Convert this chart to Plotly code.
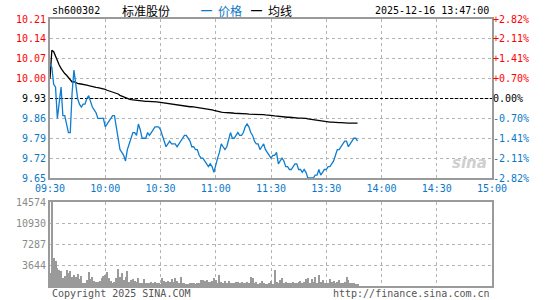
import plotly.graph_objects as go

W, H = 545, 300

# ---------------- data ----------------
symbol = "sh600302"
stock_name = "标准股份"
timestamp = "2025-12-16 13:47:00"
legend_price = "价格"
legend_avg = "均线"
copyright_text = "Copyright 2025 SINA.COM"
url_text = "http://finance.sina.com.cn"

prev_close = 9.93
time_ticks = [0, 30, 60, 90, 120, 150, 180, 210, 240]
time_labels = ["09:30", "10:00", "10:30", "11:00", "11:30", "13:30", "14:00", "14:30", "15:00"]
price_levels = [9.65, 9.72, 9.79, 9.86, 9.93, 10.00, 10.07, 10.14, 10.21]
price_labels = ["9.65", "9.72", "9.79", "9.86", "9.93", "10.00", "10.07", "10.14", "10.21"]
pct_labels = ["-2.82%", "-2.11%", "-1.41%", "-0.70%", "0.00%", "+0.70%", "+1.41%", "+2.11%", "+2.82%"]
vol_max = 14574
vol_ticks = [3644, 7287, 10930, 14574]
vol_tick_labels = ["3644", "7287", "10930", "14574"]

price = [
    10.05, 10.04, 9.98, 9.97, 9.86, 9.91, 9.97, 9.87, 9.87, 9.84,
    9.81, 9.81, 9.95, 10.03, 9.98, 9.93, 9.91, 9.90, 9.91, 9.91,
    9.93, 9.94, 9.92, 9.90, 9.89, 9.88, 9.86, 9.86, 9.86, 9.86,
    9.83, 9.84, 9.85, 9.86, 9.87, 9.87, 9.83, 9.78, 9.75, 9.74,
    9.73, 9.71, 9.75, 9.77, 9.79, 9.81, 9.81, 9.80, 9.84, 9.82,
    9.79, 9.79, 9.79, 9.81, 9.80, 9.81, 9.82, 9.83, 9.83, 9.83,
    9.82, 9.80, 9.78, 9.76, 9.77, 9.78, 9.77, 9.77, 9.77, 9.76,
    9.77, 9.78, 9.79, 9.80, 9.80, 9.79, 9.78, 9.76, 9.76, 9.75,
    9.75, 9.73, 9.72, 9.72, 9.71, 9.70, 9.69, 9.70, 9.69, 9.67,
    9.70, 9.72, 9.74, 9.77, 9.76, 9.75, 9.76, 9.79, 9.81, 9.79,
    9.79, 9.80, 9.81, 9.80, 9.80, 9.81, 9.83, 9.84, 9.83, 9.81,
    9.80, 9.78, 9.77, 9.77, 9.75, 9.76, 9.77, 9.75, 9.74, 9.73,
    9.72, 9.73, 9.73, 9.74, 9.70, 9.71, 9.72, 9.71, 9.69, 9.69,
    9.68, 9.68, 9.69, 9.70, 9.70, 9.68, 9.68, 9.67, 9.68, 9.67,
    9.65, 9.65, 9.65, 9.65, 9.66, 9.66, 9.68, 9.66, 9.67, 9.68,
    9.68, 9.69, 9.69, 9.70, 9.71, 9.73, 9.75, 9.75, 9.76, 9.77,
    9.78, 9.78, 9.76, 9.77, 9.78, 9.79, 9.79, 9.78,
]

avg_price = [
    10.000, 10.100, 10.095, 10.078, 10.062, 10.048, 10.036, 10.026, 10.018, 10.012,
    10.003, 9.994, 9.988, 9.989, 9.985, 9.983, 9.982, 9.981, 9.981, 9.979,
    9.977, 9.975, 9.973, 9.972, 9.970, 9.969, 9.968, 9.967, 9.966, 9.965,
    9.962, 9.959, 9.957, 9.955, 9.953, 9.951, 9.949, 9.946, 9.941, 9.938,
    9.935, 9.932, 9.930, 9.928, 9.926, 9.925, 9.924, 9.923, 9.922, 9.922,
    9.921, 9.921, 9.920, 9.920, 9.920, 9.919, 9.919, 9.918, 9.918, 9.917,
    9.916, 9.915, 9.914, 9.913, 9.912, 9.911, 9.910, 9.909, 9.907, 9.906,
    9.905, 9.904, 9.903, 9.903, 9.902, 9.902, 9.901, 9.901, 9.900, 9.900,
    9.899, 9.899, 9.898, 9.897, 9.896, 9.894, 9.893, 9.892, 9.890, 9.888,
    9.886, 9.884, 9.882, 9.882, 9.881, 9.881, 9.880, 9.880, 9.879, 9.879,
    9.878, 9.878, 9.877, 9.877, 9.877, 9.876, 9.876, 9.876, 9.875, 9.875,
    9.875, 9.874, 9.874, 9.874, 9.873, 9.873, 9.873, 9.872, 9.872, 9.872,
    9.871, 9.870, 9.869, 9.868, 9.867, 9.866, 9.866, 9.865, 9.865, 9.864,
    9.864, 9.863, 9.863, 9.862, 9.862, 9.861, 9.861, 9.861, 9.860, 9.860,
    9.858, 9.857, 9.855, 9.854, 9.853, 9.852, 9.851, 9.850, 9.850, 9.849,
    9.848, 9.848, 9.847, 9.847, 9.846, 9.846, 9.845, 9.845, 9.845, 9.844,
    9.844, 9.843, 9.843, 9.843, 9.843, 9.843, 9.843, 9.843,
]

volume = [
    2300, 14574, 4910, 4390, 3060, 2780, 2660, 1450, 1730, 2770,
    2200, 2600, 1500, 1900, 1500, 2080, 1150, 1730, 580, 460,
    1040, 2490, 1150, 1500, 870, 750, 750, 870, 1330, 1730,
    1900, 2480, 1330, 900, 580, 750, 1330, 2950, 1620, 2200,
    1000, 1500, 2600, 750, 1000, 1150, 870, 750, 1330, 460,
    580, 1150, 460, 460, 580, 640, 460, 750, 460, 580,
    350, 1330, 925, 750, 925, 750, 1150, 750, 1330, 925,
    580, 1620, 460, 460, 400, 290, 580, 460, 460, 350,
    580, 460, 1040, 1000, 925, 1040, 750, 700, 900, 1330,
    1040, 580, 1900, 750, 580, 925, 580, 870, 460, 580,
    580, 750, 750, 460, 750, 580, 460, 640, 520, 1500,
    1330, 460, 750, 400, 520, 925, 580, 290, 400, 580,
    800, 350, 2770, 750, 580, 1040, 1330, 580, 750, 580,
    460, 580, 750, 460, 580, 750, 925, 580, 750, 1150,
    1330, 580, 1150, 750, 1500, 580, 1900, 750, 1040, 460,
    580, 460, 1150, 750, 925, 580, 750, 1040, 580, 460,
    750, 1500, 1040, 460, 580, 460, 350, 290,
]

minutes = list(range(len(price)))

# ---------------- styling ----------------
RED = "#ff0000"
BLUE = "#0a78c8"
LINE_BLUE = "#0e7dcf"
GRID = "#b4b4b4"
BORDER = "#9a9a9a"
MONO = "DejaVu Sans Mono, Liberation Mono, monospace"
CJK = "Noto Sans CJK SC, sans-serif"


def px(x):
    return x / W


def py(y):
    return 1 - y / H


def colored(text, value):
    if value > prev_close + 1e-9:
        c = RED
    elif value < prev_close - 1e-9:
        c = BLUE
    else:
        c = "#000000"
    return f'<span style="color:{c}">{text}</span>'


pct_vals = [(p - prev_close) / prev_close * 100 for p in price_levels]

fig = go.Figure()

fig.add_trace(go.Scatter(x=[time_ticks[0], time_ticks[-1]], y=[prev_close, prev_close],
                         mode="lines", line=dict(color="#000000", width=1.2, dash="3px,2px"),
                         xaxis="x", yaxis="y", hoverinfo="skip", showlegend=False))
fig.add_trace(go.Scatter(x=minutes, y=avg_price, mode="lines",
                         line=dict(color="#000000", width=1.3),
                         xaxis="x", yaxis="y", showlegend=False))
fig.add_trace(go.Scatter(x=minutes, y=price, mode="lines",
                         line=dict(color=LINE_BLUE, width=1.3),
                         xaxis="x", yaxis="y", showlegend=False))
fig.add_trace(go.Scatter(x=[None], y=[None], xaxis="x", yaxis="y2", showlegend=False))
fig.add_trace(go.Bar(x=minutes, y=volume, width=0.55, marker=dict(color="#9a9a9a", line=dict(width=0)),
                     xaxis="x2", yaxis="y3", showlegend=False))

xdom = [px(50), px(492)]
common_x = dict(domain=xdom, range=[time_ticks[0], time_ticks[-1]], tickvals=time_ticks,
                showgrid=True, gridcolor=GRID, griddash="dot", gridwidth=1,
                showline=True, mirror=True, linecolor=BORDER, linewidth=2,
                zeroline=False, ticks="", fixedrange=True, automargin=False)

fig.update_layout(
    width=W, height=H, autosize=False,
    margin=dict(l=0, r=0, t=0, b=0, pad=0),
    paper_bgcolor="white", plot_bgcolor="white",
    bargap=0,
    xaxis=dict(**common_x, anchor="y", ticktext=time_labels,
               tickfont=dict(family=MONO, size=10, color=BLUE)),
    yaxis=dict(domain=[py(178), py(19)], range=[price_levels[0], price_levels[-1]],
               tickvals=price_levels, ticktext=[colored(t, v) for t, v in zip(price_labels, price_levels)],
               tickfont=dict(family=MONO, size=10),
               showgrid=True, gridcolor=GRID, griddash="dot", gridwidth=1,
               showline=True, mirror=True, linecolor=BORDER, linewidth=2,
               zeroline=False, ticks="", anchor="x", automargin=False),
    yaxis2=dict(overlaying="y", side="right", anchor="x",
                range=[pct_vals[0], pct_vals[-1]], tickvals=pct_vals,
                ticktext=[colored(t, v) for t, v in zip(pct_labels, price_levels)],
                tickfont=dict(family=MONO, size=10),
                showgrid=False, zeroline=False, showline=False, ticks="", automargin=False),
    xaxis2=dict(**common_x, anchor="y3", showticklabels=False),
    yaxis3=dict(domain=[py(286), py(202)], range=[0, vol_max], tickvals=vol_ticks,
                ticktext=vol_tick_labels,
                tickfont=dict(family=MONO, size=10, color="#8a8a8a"),
                showgrid=True, gridcolor=GRID, griddash="dot", gridwidth=1,
                showline=True, mirror=True, linecolor=BORDER, linewidth=2,
                zeroline=False, ticks="", anchor="x2", automargin=False),
)

ann = []
ann.append(dict(x=px(50), y=py(11), text=symbol, xanchor="left", yanchor="middle",
                font=dict(family=MONO, size=10, color="#000")))
ann.append(dict(x=px(120), y=py(11), text=stock_name, xanchor="left", yanchor="middle",
                font=dict(family=CJK, size=12, color="#000")))
ann.append(dict(x=px(199), y=py(10), text="━", xanchor="left", yanchor="middle",
                font=dict(family=CJK, size=11, color=LINE_BLUE)))
ann.append(dict(x=px(216), y=py(11), text=legend_price, xanchor="left", yanchor="middle",
                font=dict(family=CJK, size=12, color=BLUE)))
ann.append(dict(x=px(249), y=py(10), text="━", xanchor="left", yanchor="middle",
                font=dict(family=CJK, size=11, color="#000")))
ann.append(dict(x=px(266), y=py(11), text=legend_avg, xanchor="left", yanchor="middle",
                font=dict(family=CJK, size=12, color="#000")))
ann.append(dict(x=px(491), y=py(11), text=timestamp, xanchor="right", yanchor="middle",
                font=dict(family=MONO, size=10, color="#000")))
ann.append(dict(x=px(50), y=py(293), text=copyright_text, xanchor="left", yanchor="middle",
                font=dict(family=MONO, size=10, color="#555")))
ann.append(dict(x=px(492), y=py(293), text=url_text, xanchor="right", yanchor="middle",
                font=dict(family=MONO, size=10, color="#555")))
ann.append(dict(x=px(489), y=py(163), text="<b><i>sina</i></b>", xanchor="right", yanchor="middle",
                font=dict(family="DejaVu Sans", size=15, color="#cfcfcf")))
for a in ann:
    a.update(xref="paper", yref="paper", showarrow=False)
fig.update_layout(annotations=ann)

fig.write_html("out.html")
